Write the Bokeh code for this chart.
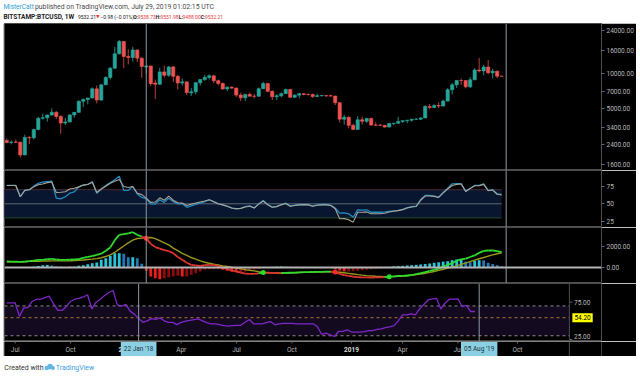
from bokeh.plotting import figure
from bokeh.layouts import column
from bokeh.models import (ColumnDataSource, Range1d, Span, Label,
                          FixedTicker, NumeralTickFormatter)
from bokeh.core.properties import value
from bokeh.embed import file_html
from bokeh.resources import INLINE

# ---------------- data (weekly bars, BITSTAMP:BTCUSD, first bar = week of 19 Jun 2017) ----------------
week_index = list(range(111))

opens = [2600, 2500, 2520, 2510, 1940, 2760, 2740, 3240, 4070, 4110,
         4350, 4600, 4220, 3700, 3780, 4360, 4590, 5750, 5950, 6130,
         7380, 5880, 8000, 9300, 11200, 15000, 19200, 14200, 13900, 16200,
         13700, 11500, 11700, 8300, 8100, 10400, 9700, 11500, 9500, 8300,
         8500, 6800, 6950, 8350, 8900, 9300, 9600, 8700, 8240, 7360,
         7640, 7490, 6510, 6150, 6600, 6360, 6350, 7400, 8220, 7020,
         6290, 6410, 6700, 7280, 6230, 6500, 6690, 6600, 6570, 6330,
         6430, 6440, 6410, 6380, 5580, 4000, 4150, 3530, 3250, 3950,
         3830, 4060, 3550, 3540, 3530, 3410, 3670, 3680, 3820, 3880,
         3920, 3990, 4000, 4100, 5160, 5070, 5270, 5210, 5760, 7250,
         8000, 8740, 8730, 7690, 8850, 10800, 10600, 11480, 10200, 10550, 9538.73]
highs = [2700, 2600, 2650, 2530, 2920, 2850, 3300, 4200, 4480, 4380,
         4980, 4700, 4350, 4100, 4400, 4620, 5850, 6100, 6150, 7600,
         7900, 8100, 9500, 11500, 17200, 19800, 19300, 16500, 17200, 16300,
         14000, 11900, 11800, 8900, 11300, 11800, 11700, 11700, 9800, 9100,
         8500, 7500, 8500, 9000, 9800, 9900, 9800, 8900, 8400, 7760,
         7760, 7590, 6830, 6550, 6840, 6700, 7570, 8500, 8270, 7150,
         6630, 6880, 7420, 7400, 6620, 6830, 6780, 6700, 6710, 6700,
         6540, 6480, 6560, 6420, 5620, 4370, 4240, 3640, 4250, 4200,
         4100, 4110, 3750, 3640, 3560, 3710, 3700, 4190, 3900, 3930,
         4020, 4070, 4150, 5320, 5450, 5400, 5630, 5950, 7480, 8320,
         8800, 9080, 8740, 9350, 11200, 13800, 12000, 13200, 11100, 10650, 9551.98]
lows = [2450, 2400, 2480, 1840, 1930, 2420, 2650, 3200, 3960, 3800,
        4300, 4000, 2980, 3550, 3760, 4120, 4580, 5100, 5400, 6100,
        5500, 5800, 8000, 8900, 11100, 14800, 11200, 12100, 12800, 12700,
        9200, 10000, 7800, 6000, 8000, 9300, 9400, 8500, 7300, 7900,
        6500, 6400, 6600, 7900, 8700, 8900, 8300, 7900, 7270, 7050,
        7330, 6270, 5760, 5780, 6350, 6080, 6330, 7370, 6900, 5890,
        5880, 6210, 6680, 6120, 6120, 6100, 6460, 6460, 6150, 6330,
        6320, 6260, 6340, 5320, 3730, 3580, 3330, 3210, 3240, 3580,
        3700, 3500, 3500, 3470, 3360, 3390, 3560, 3660, 3710, 3680,
        3810, 3930, 3920, 4080, 4880, 5020, 5000, 5180, 5740, 6600,
        7520, 8000, 7450, 7500, 8850, 10300, 9700, 9900, 9100, 9150, 9488.00]
closes = [2500, 2520, 2510, 1940, 2760, 2740, 3240, 4070, 4110, 4350,
          4600, 4220, 3700, 3780, 4360, 4590, 5750, 5950, 6130, 7380,
          5880, 8000, 9300, 11200, 15000, 19200, 14200, 13900, 16200, 13700,
          11600, 11700, 8200, 8100, 10400, 9700, 11500, 9500, 8300, 8500,
          6850, 6950, 8350, 8900, 9300, 9600, 8700, 8240, 7360, 7640,
          7490, 6510, 6150, 6600, 6360, 6350, 7400, 8220, 7020, 6290,
          6410, 6700, 7280, 6230, 6500, 6690, 6600, 6570, 6330, 6430,
          6440, 6410, 6380, 5580, 4000, 4150, 3530, 3250, 3950, 3830,
          4060, 3550, 3540, 3530, 3410, 3670, 3680, 3820, 3880, 3920,
          3990, 4000, 4100, 5160, 5070, 5270, 5210, 5760, 7250, 8000,
          8740, 8730, 7690, 8850, 10800, 10600, 11480, 10200, 10550, 9540, 9532.21]

rsi_values = [76, 76, 76, 60, 69, 70, 75, 79, 80.6, 81.5,
              82, 58, 57, 60, 65, 67, 74, 76.5, 77.4, 81.6,
              65, 71, 76, 80, 84, 89, 69, 69, 74.5, 64,
              59, 57, 50, 49.5, 55.7, 52, 58, 53, 50, 50,
              45, 47, 49, 51, 53, 55.7, 53, 50, 48.5, 46.5,
              44, 43, 43.5, 46, 47, 44.3, 50, 54.7, 49, 45.2,
              46.5, 49, 51, 46.7, 48, 49, 49.3, 49, 46.7, 48.5,
              49, 49, 48, 44, 36.7, 37, 35.8, 31, 41.5, 41,
              41.5, 38, 38, 38, 38.5, 39.4, 40, 40.6, 42, 44.5,
              46, 46.7, 56, 61.8, 61.8, 61, 59.4, 66, 72, 78.3,
              78.5, 78.7, 68, 72, 76, 76, 78.3, 69, 70, 64, 63.2]
rsi_smooth = [76, 76, 76, 60, 69, 70, 74, 77, 78, 80,
              81, 66, 66.4, 67, 71, 72, 74, 76.5, 77.4, 80.5,
              66, 71, 75, 79, 82, 84.4, 74.5, 73, 74.5, 65,
              63, 58, 52, 52.5, 58.5, 55, 60.8, 55, 51.4, 51,
              47.6, 49.5, 51, 52.6, 54, 55.7, 53, 50, 48.5, 46.5,
              44, 43, 43.5, 45.5, 46.5, 44, 49.5, 54, 48.5, 45,
              46, 48.5, 50.5, 46.5, 47.5, 48.5, 48.8, 48.5, 46.5, 48,
              48.5, 48.5, 47.5, 43, 28.7, 29, 27.3, 24, 38, 38,
              38.5, 35.8, 35.8, 35.8, 36.5, 38.5, 39.5, 40.3, 41.7, 44,
              45.5, 46.2, 55, 61, 61, 60.5, 59, 65.5, 71, 76,
              77.5, 78, 67.5, 71.5, 75.5, 75.5, 77.5, 68.5, 69.5, 63.5, 62.5]
rsi_ticks = [25, 50, 75]
rsi_band = [30, 50, 70]

macd_line = [570, 560, 560, 540, 560, 600, 650, 720, 730, 800,
             825, 760, 730, 730, 740, 770, 800, 920, 1020, 1090,
             1200, 1320, 1600, 1900, 2600, 3110, 3180, 3260, 3364, 3110,
             2950, 2780, 2250, 1950, 1800, 1650, 1550, 1364, 1000, 730,
             450, 254, 200, 159, 220, 254, 220, 159, 0, -159,
             -270, -381, -480, -580, -603, -600, -560, -470, -500, -520,
             -530, -539, -520, -500, -480, -460, -450, -444, -430, -420,
             -410, -400, -385, -440, -600, -720, -800, -880, -920, -940,
             -950, -952, -945, -935, -925, -870, -840, -810, -790, -760,
             -720, -640, -540, -440, -330, -220, -100, 80, 250, 420,
             650, 780, 850, 1000, 1150, 1400, 1580, 1618, 1618, 1560, 1460]
signal_line = [540, 540, 545, 540, 545, 580, 590, 600, 610, 620,
               630, 630, 630, 635, 640, 660, 690, 720, 760, 794,
               850, 930, 1050, 1200, 1450, 1745, 2050, 2350, 2600, 2760,
               2800, 2840, 2856, 2750, 2550, 2350, 2150, 1840, 1600, 1350,
               1150, 950, 800, 635, 500, 400, 317, 250, 150, 95,
               20, -60, -127, -200, -260, -317, -400, -480, -495, -510,
               -520, -525, -520, -510, -495, -480, -465, -455, -440, -430,
               -420, -410, -400, -415, -450, -500, -560, -620, -680, -730,
               -770, -800, -830, -850, -870, -880, -865, -845, -815, -780,
               -730, -680, -620, -550, -470, -380, -280, -170, -60, 50,
               150, 300, 420, 560, 700, 830, 950, 1080, 1200, 1310, 1400]
macd_hist = [40, 30, 20, 10, 20, 40, 80, 150, 220, 250,
             190, 100, 60, 40, 60, 80, 160, 220, 320, 410,
             475, 730, 890, 1110, 1360, 1360, 1300, 980, 980, 890,
             350, -317, -856, -1014, -1110, -1014, -920, -856, -793, -856,
             -856, -700, -540, -380, -222, -160, -160, -160, -222, -317,
             -412, -444, -444, -380, -222, -180, -120, 20, 40, 60,
             80, 95, 80, 60, 50, 40, 40, 35, 30, 25,
             20, 15, 10, -160, -300, -380, -380, -350, -300, -250,
             -200, -160, -120, -80, -40, 60, 100, 130, 160, 190,
             220, 250, 290, 330, 380, 450, 500, 560, 600, 700,
             760, 800, 560, 500, 620, 700, 680, 450, 330, 220, 100]
cross_weeks = [31, 57, 73, 85]
cross_kinds = ["down", "up", "down", "up"]
macd_ticks = [0, 2000]

osc_values = [74, 74, 74, 56, 67, 68, 76, 79, 79, 81,
              83, 73, 64, 64, 69, 76, 79, 80, 82, 85,
              66, 75, 79, 84, 88, 90.7, 71, 69.6, 72, 63,
              59, 53, 48, 50, 53, 52, 54, 50, 48, 48,
              45, 48, 49.5, 50.5, 51.5, 52.7, 50, 47.5, 46, 46,
              45, 43.5, 42.8, 43.5, 44, 44, 48, 51.8, 46, 46,
              46, 47.5, 49, 44.7, 46, 46.7, 46.7, 46.7, 46, 46,
              46, 46, 46, 42, 32, 33.4, 31.3, 29, 36, 36,
              38, 35, 35, 35, 35.5, 37, 37, 38.5, 39.3, 41,
              42, 43.5, 50, 58, 58, 59.5, 58, 66, 72, 78,
              79.5, 80, 66, 74, 79, 79, 79.5, 69.2, 70.6, 62.5, 62.5]
osc_upper, osc_mid, osc_lower = 70, 54.2, 30
osc_mid_label = "54.20"
osc_ticks = [25, 75]
osc_tick_labels = ["25.00", "75.00"]

price_ticks = [1600, 2400, 3400, 5000, 7000, 10000, 16000, 24000]
time_ticks = [2, 15, 28, 41, 54, 67, 81, 93, 106, 120]
time_labels = ["Jul", "Oct", "2018", "Apr", "Jul", "Oct", "2019", "Apr", "Jul", "Oct"]
crosshair_weeks = [31, 111]
crosshair_labels = ["22 Jan '18", "05 Aug '19"]

header_line1 = [("MisterCatt", 2, "#2a9fd8", "normal", "6.5px"),
                ("published on TradingView.com, July 29, 2019 01:02:15 UTC", 35.5, "#4a4a4a",
                 "normal", "6.85px")]
header_line2 = [("BITSTAMP:BTCUSD, 1W", 2, "#222222", "bold", "6.5px"),
                ("9532.21", 81, "#222222", "normal", "5px"),
                ("\u25bc", 100, "#e53935", "normal", "4.5px"),
                ("\u22120.98 (\u22120.01%)", 104.8, "#222222", "normal", "5px"),
                ("O:", 139.5, "#222222", "bold", "5px"), ("9538.73", 144.3, "#e53935", "normal", "5px"),
                ("H:", 163.5, "#222222", "bold", "5px"), ("9551.98", 168.4, "#e53935", "normal", "5px"),
                ("L:", 187.8, "#222222", "bold", "5px"), ("9488.00", 191.8, "#e53935", "normal", "5px"),
                ("C:", 211, "#222222", "bold", "5px"), ("9532.21", 215.6, "#e53935", "normal", "5px")]

# ---------------- styling helpers ----------------
FONT = "Roboto"
BG = "#000000"
SEP = "#4d4d4d"
LBL = "#b8b8b8"
CROSS = "#8a99a3"
PX_PER_WEEK = 4.506

xr = Range1d(-0.51, 132.19)                              # bars area (frame 4..602 px)
xr_wide = Range1d(-0.51, 132.19 + 34 / PX_PER_WEEK)      # bars area + price scale (4..636 px)
scale_x = xr.end                                         # price-scale separator


def pane(height, y_range, y_type="linear"):
    p = figure(width=633, height=height, x_range=xr, y_range=y_range, y_axis_type=y_type,
               output_backend="svg", toolbar_location=None,
               x_axis_location=None, y_axis_location="right",
               min_border_left=1, min_border_right=34, min_border_top=0, min_border_bottom=0,
               background_fill_color=BG, border_fill_color=BG,
               outline_line_color=SEP, margin=(0, 4, 0, 3))
    p.grid.visible = False
    ax = p.yaxis[0]
    ax.axis_line_color = None
    ax.major_tick_line_color = "#666666"
    ax.major_tick_out = 3
    ax.major_tick_in = 0
    ax.minor_tick_line_color = None
    ax.major_label_text_color = LBL
    ax.major_label_text_font_size = "6.5px"
    ax.major_label_text_font = FONT
    ax.major_label_standoff = 2
    for w in crosshair_weeks:
        p.add_layout(Span(location=w, dimension="height", line_color=CROSS, line_width=1))
    return p


def wide_pane(height, y_range, outline=SEP):
    p = figure(width=633, height=height, x_range=xr_wide, y_range=y_range,
               output_backend="svg", toolbar_location=None,
               x_axis_location=None, y_axis_location=None,
               min_border_left=1, min_border_right=0, min_border_top=0, min_border_bottom=0,
               background_fill_color=BG, border_fill_color=BG,
               outline_line_color=outline, margin=(0, 4, 0, 3))
    p.grid.visible = False
    p.add_layout(Span(location=scale_x, dimension="height", line_color=SEP, line_width=1))
    return p


# ---------------- header ----------------
head = figure(width=640, height=23, x_range=Range1d(0, 640), y_range=Range1d(0, 23),
              output_backend="svg", toolbar_location=None, min_border=0,
              outline_line_color=None, background_fill_color="white", border_fill_color="white")
head.axis.visible = False
head.grid.visible = False
for txt, x, col, style, size in header_line1:
    head.add_layout(Label(x=x, y=17, text=txt, text_color=col, text_font=FONT,
                          text_font_size=size, text_font_style=style, text_baseline="middle"))
for txt, x, col, style, size in header_line2:
    head.add_layout(Label(x=x, y=7, text=txt, text_color=col,
                          text_font=("DejaVu Sans" if txt == "\u25bc" else FONT),
                          text_font_size=size, text_font_style=style, text_baseline="middle"))

# ---------------- main candle pane ----------------
main = pane(147, Range1d(1417, 27650), y_type="log")
up = [c >= o for o, c in zip(opens, closes)]
src = ColumnDataSource(dict(
    x=week_index, h=highs, l=lows,
    top=[max(o, c) for o, c in zip(opens, closes)],
    bottom=[min(o, c) for o, c in zip(opens, closes)],
    body=["#26a69a" if u else "#ef5350" for u in up],
    wick=["#1f8a80" if u else "#b83f3d" for u in up]))
main.segment("x", "h", "x", "l", source=src, line_color="wick", line_width=1)
main.vbar(x="x", width=0.72, top="top", bottom="bottom", source=src,
          fill_color="body", line_color="body", line_width=0.6)
main.yaxis.ticker = FixedTicker(ticks=price_ticks)
main.yaxis.formatter = NumeralTickFormatter(format="0.00")

# ---------------- RSI pane ----------------
rsi = pane(57, Range1d(16.4, 97.2))
band_x = [week_index[0] - 0.6, week_index[-1]]
rsi.varea(x=band_x, y1=[rsi_band[0]] * 2, y2=[rsi_band[2]] * 2, fill_color="#081630")
rsi.line(band_x, [rsi_band[2]] * 2, line_color="#4a2a34", line_width=1)
rsi.line(band_x, [rsi_band[1]] * 2, line_color="#5d6773", line_width=1)
rsi.line(band_x, [rsi_band[0]] * 2, line_color="#1f4a27", line_width=1)
rsi.line(week_index, rsi_values, line_color="#1e8bc3", line_width=1.3)
rsi.line(week_index, rsi_smooth, line_color="#aaa293", line_width=1.1)
rsi.yaxis.ticker = FixedTicker(ticks=rsi_ticks)
rsi.yaxis.formatter = NumeralTickFormatter(format="0")

# ---------------- MACD pane ----------------
macd = pane(56, Range1d(-1524, 3810))
hist_colors = []
for k, hv in enumerate(macd_hist):
    prev = macd_hist[k - 1] if k else hv
    if hv >= 0:
        hist_colors.append("#27c5da" if hv >= prev else "#2378b5")
    else:
        hist_colors.append("#f01c1c" if hv < prev else "#8c0b0b")
macd.vbar(x=week_index, width=0.62, top=macd_hist, bottom=0, fill_color=hist_colors,
          line_color=None)
macd.add_layout(Span(location=0, dimension="width", line_color="#b4b4b4", line_width=2))
macd.line(week_index, signal_line, line_color="#98981c", line_width=1.4)
seg_colors = ["#2edc2e" if macd_line[k + 1] >= signal_line[k + 1] else "#e0352f"
              for k in range(len(week_index) - 1)]
macd.segment(x0=week_index[:-1], y0=macd_line[:-1], x1=week_index[1:], y1=macd_line[1:],
             line_color=seg_colors, line_width=1.8)
macd.scatter(x=cross_weeks, y=[macd_line[w] for w in cross_weeks], size=5,
             fill_color=["#ff2a2a" if k == "down" else "#2bdc2b" for k in cross_kinds],
             line_color=None)
macd.yaxis.ticker = FixedTicker(ticks=macd_ticks)
macd.yaxis.formatter = NumeralTickFormatter(format="0.00")

# ---------------- oscillator pane (bars area + its own price scale) ----------------
osc = wide_pane(58, Range1d(22.3, 100.07))
osc.quad(left=xr.start, right=scale_x, bottom=osc_lower, top=osc_upper,
         fill_color="#140a20", line_color=None)
for lvl, col in ((osc_upper, "#8c8c8c"), (osc_lower, "#8c8c8c"), (osc_mid, "#a8782a")):
    osc.segment(x0=xr.start, y0=lvl, x1=scale_x, y1=lvl, line_color=col,
                line_width=1, line_dash="3 3")
for w in crosshair_weeks:
    osc.add_layout(Span(location=w, dimension="height", line_color=CROSS, line_width=1))
osc.line(week_index, osc_values, line_color="#7e26c8", line_width=1.3)
osc.segment(x0=[scale_x] * len(osc_ticks), y0=osc_ticks,
            x1=[scale_x + 3 / PX_PER_WEEK] * len(osc_ticks), y1=osc_ticks, line_color="#666666")
for t, lab in zip(osc_ticks, osc_tick_labels):
    osc.text(x=[scale_x + 5 / PX_PER_WEEK], y=[t], text=[lab], text_color=LBL,
             text_font=value(FONT), text_font_size="6.5px",
             text_baseline=("bottom" if t == min(osc_ticks) else "middle"))
osc.add_layout(Label(x=scale_x, y=osc_mid, text=osc_mid_label, text_color="#000000",
                     text_font=FONT, text_font_size="6.5px", text_baseline="middle",
                     background_fill_color="#ffff00", padding=2, x_offset=3))

# ---------------- time scale strip ----------------
tstrip = wide_pane(15, Range1d(0, 15), outline=None)
normal_t = [t for t, lab in zip(time_ticks, time_labels) if not lab.isdigit()]
normal_l = [lab for lab in time_labels if not lab.isdigit()]
year_t = [t for t, lab in zip(time_ticks, time_labels) if lab.isdigit()]
year_l = [lab for lab in time_labels if lab.isdigit()]
tstrip.segment(x0=time_ticks, y0=[15] * len(time_ticks), x1=time_ticks,
               y1=[13] * len(time_ticks), line_color="#666666")
tstrip.text(x=normal_t, y=[7] * len(normal_t), text=normal_l, text_color=LBL,
            text_font=value(FONT), text_font_size="6.5px", text_align="center",
            text_baseline="middle")
tstrip.text(x=year_t, y=[7] * len(year_t), text=year_l, text_color="#d8d8d8",
            text_font=value(FONT), text_font_size="6.5px", text_font_style="bold",
            text_align="center", text_baseline="middle")
for w, lab in zip(crosshair_weeks, crosshair_labels):
    tstrip.add_layout(Label(x=w, y=7.5, text=lab, text_color="#1d3440",
                            text_font=FONT, text_font_size="6.5px", text_align="center",
                            text_baseline="middle", background_fill_color="#8bcfe2", padding=3))

# ---------------- footer ----------------
foot = figure(width=640, height=20, x_range=Range1d(0, 640), y_range=Range1d(0, 20),
              output_backend="svg", toolbar_location=None, min_border=0,
              outline_line_color=None, background_fill_color="white", border_fill_color="white")
foot.axis.visible = False
foot.grid.visible = False
foot.add_layout(Label(x=3, y=9, text="Created with", text_color="#333333", text_font=FONT,
                      text_font_size="7px", text_baseline="middle"))
logo_x = [48, 51.5, 54.5]
logo_y = [8.5, 10, 8.5]
logo_r = [2.4, 3.0, 2.2]
foot.circle(x=logo_x, y=logo_y, radius=logo_r, fill_color="#62b9e6", line_color=None)
foot.add_layout(Label(x=57.5, y=9, text="TradingView", text_color="#3aa0e0", text_font=FONT,
                      text_font_size="7px", text_baseline="middle"))

layout = column(head, main, rsi, macd, osc, tstrip, foot, spacing=0)
open("out.html", "w").write(file_html(layout, INLINE))
